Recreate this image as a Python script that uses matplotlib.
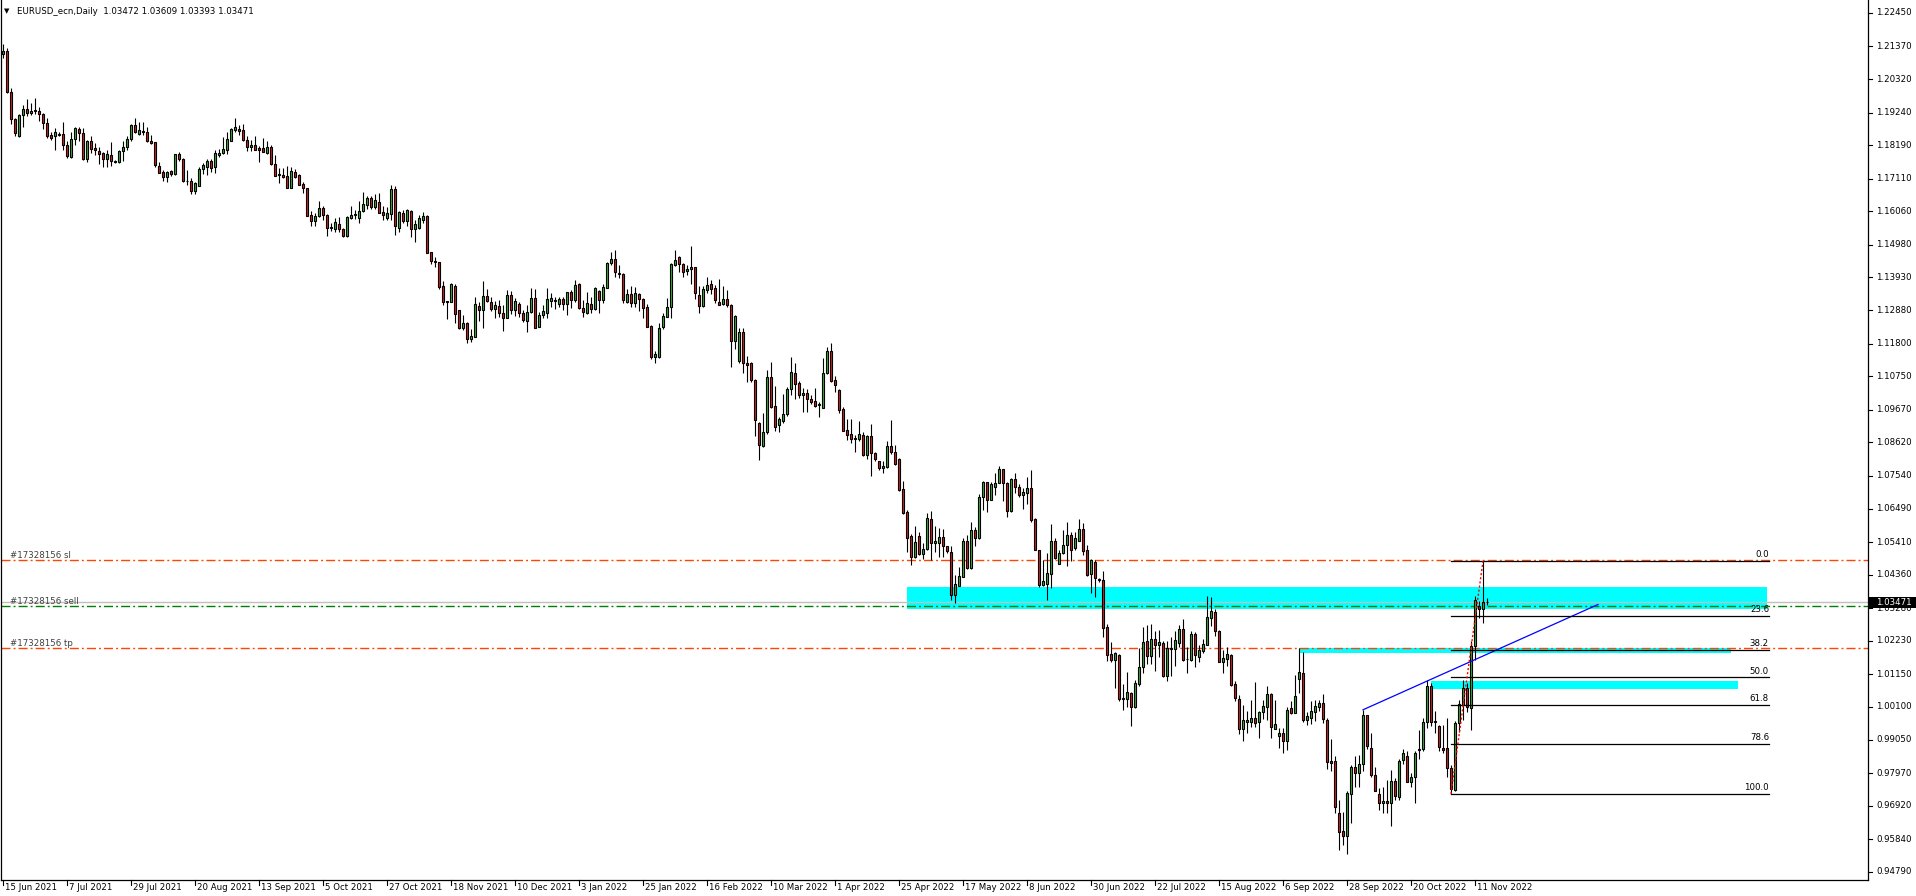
import matplotlib
matplotlib.use("Agg")
import matplotlib.pyplot as plt
import matplotlib.transforms as mtransforms
from matplotlib.patches import Rectangle

plt.rcParams['font.family'] = ['DejaVu Sans']
plt.rcParams['font.size'] = 6.2
plt.rcParams['lines.scale_dashes'] = False

# ---- daily EURUSD bars, one entry per trading day from 15 Jun 2021 ----
opens = [
    1.2113, 1.2122, 1.1989, 1.1902, 1.1850, 1.1915, 1.1935, 1.1922, 1.1929, 1.1928, 1.1919, 1.1892,
    1.1851, 1.1847, 1.1854, 1.1854, 1.1819, 1.1782, 1.1838, 1.1871, 1.1857, 1.1773, 1.1832, 1.1810,
    1.1800, 1.1794, 1.1773, 1.1787, 1.1768, 1.1764, 1.1799, 1.1812, 1.1838, 1.1883, 1.1856, 1.1865,
    1.1861, 1.1832, 1.1829, 1.1752, 1.1734, 1.1716, 1.1736, 1.1726, 1.1791, 1.1775, 1.1705, 1.1705,
    1.1671, 1.1687, 1.1742, 1.1750, 1.1768, 1.1748, 1.1789, 1.1793, 1.1803, 1.1834, 1.1869, 1.1871,
    1.1867, 1.1835, 1.1812, 1.1819, 1.1810, 1.1809, 1.1795, 1.1814, 1.1758, 1.1722, 1.1722, 1.1720,
    1.1682, 1.1734, 1.1722, 1.1694, 1.1682, 1.1594, 1.1574, 1.1590, 1.1617, 1.1594, 1.1554, 1.1549,
    1.1566, 1.1550, 1.1525, 1.1583, 1.1594, 1.1586, 1.1606, 1.1628, 1.1650, 1.1620, 1.1636, 1.1604,
    1.1586, 1.1598, 1.1678, 1.1551, 1.1601, 1.1576, 1.1607, 1.1548, 1.1553, 1.1579, 1.1591, 1.1475,
    1.1446, 1.1443, 1.1366, 1.1317, 1.1315, 1.1367, 1.1288, 1.1231, 1.1246, 1.1194, 1.1202, 1.1302,
    1.1287, 1.1332, 1.1313, 1.1293, 1.1301, 1.1278, 1.1264, 1.1336, 1.1289, 1.1307, 1.1280, 1.1254,
    1.1282, 1.1327, 1.1235, 1.1272, 1.1278, 1.1317, 1.1321, 1.1308, 1.1324, 1.1307, 1.1345, 1.1321,
    1.1372, 1.1294, 1.1280, 1.1308, 1.1293, 1.1350, 1.1319, 1.1360, 1.1439, 1.1452, 1.1408, 1.1404,
    1.1315, 1.1339, 1.1310, 1.1339, 1.1323, 1.1297, 1.1237, 1.1138, 1.1138, 1.1232, 1.1265, 1.1299,
    1.1432, 1.1460, 1.1435, 1.1413, 1.1419, 1.1426, 1.1336, 1.1302, 1.1354, 1.1371, 1.1358, 1.1314,
    1.1308, 1.1323, 1.1304, 1.1187, 1.1123, 1.1218, 1.1117, 1.1118, 1.1063, 1.0926, 1.0849, 1.0895,
    1.1073, 1.0979, 1.0917, 1.0932, 1.0953, 1.1033, 1.1086, 1.1052, 1.1013, 1.1021, 1.1002, 1.0995,
    1.0981, 1.0974, 1.1085, 1.1156, 1.1062, 1.1031, 1.0970, 1.0901, 1.0888, 1.0877, 1.0872, 1.0885,
    1.0822, 1.0883, 1.0827, 1.0802, 1.0779, 1.0783, 1.0851, 1.0831, 1.0807, 1.0711, 1.0638, 1.0561,
    1.0494, 1.0561, 1.0503, 1.0519, 1.0616, 1.0537, 1.0537, 1.0556, 1.0527, 1.0510, 1.0371, 1.0400,
    1.0430, 1.0544, 1.0458, 1.0579, 1.0555, 1.0687, 1.0733, 1.0678, 1.0719, 1.0730, 1.0775, 1.0730,
    1.0642, 1.0743, 1.0717, 1.0691, 1.0700, 1.0714, 1.0614, 1.0515, 1.0403, 1.0407, 1.0437, 1.0546,
    1.0472, 1.0505, 1.0530, 1.0563, 1.0521, 1.0545, 1.0583, 1.0515, 1.0437, 1.0478, 1.0422, 1.0419,
    1.0266, 1.0180, 1.0160, 1.0176, 1.0035, 1.0035, 1.0054, 1.0011, 1.0083, 1.0138, 1.0222, 1.0174,
    1.0228, 1.0208, 1.0215, 1.0110, 1.0199, 1.0196, 1.0215, 1.0260, 1.0163, 1.0161, 1.0244, 1.0172,
    1.0190, 1.0211, 1.0298, 1.0315, 1.0255, 1.0156, 1.0166, 1.0177, 1.0083, 1.0036, 0.9938, 0.9963,
    0.9963, 0.9974, 0.9963, 0.9993, 1.0011, 1.0052, 0.9940, 0.9918, 0.9925, 0.9902, 1.0006, 0.9992,
    1.0101, 1.0119, 0.9968, 0.9973, 0.9995, 1.0009, 1.0023, 0.9968, 0.9836, 0.9836, 0.9668, 0.9612,
    0.9593, 0.9729, 0.9816, 0.9797, 0.9826, 0.9985, 0.9877, 0.9792, 0.9730, 0.9700, 0.9708, 0.9700,
    0.9772, 0.9720, 0.9840, 0.9853, 0.9770, 0.9784, 0.9870, 0.9874, 0.9961, 1.0078, 0.9963, 0.9949,
    0.9877, 0.9877, 0.9815, 0.9743, 0.9958, 1.0017, 1.0071, 1.0006, 1.0205, 1.0336, 1.0325, 1.03472,
]
highs = [
    1.2145, 1.2131, 1.2002, 1.1905, 1.1919, 1.1949, 1.1967, 1.1954, 1.1972, 1.1941, 1.1924, 1.1906,
    1.1863, 1.1873, 1.1863, 1.1893, 1.1831, 1.1863, 1.1879, 1.1877, 1.1873, 1.1836, 1.1849, 1.1825,
    1.1812, 1.1798, 1.1804, 1.1829, 1.1772, 1.1804, 1.1831, 1.1847, 1.1886, 1.1906, 1.1895, 1.1895,
    1.1879, 1.1853, 1.1830, 1.1766, 1.1739, 1.1737, 1.1739, 1.1792, 1.1798, 1.1777, 1.1739, 1.1712,
    1.1702, 1.1750, 1.1763, 1.1774, 1.1774, 1.1804, 1.1806, 1.1844, 1.1862, 1.1874, 1.1907, 1.1885,
    1.1886, 1.1847, 1.1835, 1.1849, 1.1816, 1.1843, 1.1831, 1.1820, 1.1788, 1.1747, 1.1744, 1.1751,
    1.1749, 1.1743, 1.1725, 1.1699, 1.1682, 1.1608, 1.1600, 1.1638, 1.1622, 1.1597, 1.1568, 1.1585,
    1.1587, 1.1552, 1.1592, 1.1624, 1.1611, 1.1638, 1.1668, 1.1654, 1.1656, 1.1661, 1.1665, 1.1622,
    1.1621, 1.1691, 1.1689, 1.1608, 1.1610, 1.1613, 1.1611, 1.1578, 1.1594, 1.1605, 1.1594, 1.1475,
    1.1460, 1.1443, 1.1383, 1.1317, 1.1374, 1.1371, 1.1288, 1.1272, 1.1251, 1.1226, 1.1331, 1.1315,
    1.1382, 1.1355, 1.1331, 1.1317, 1.1321, 1.1304, 1.1353, 1.1351, 1.1326, 1.1315, 1.1288, 1.1304,
    1.1360, 1.1355, 1.1283, 1.1304, 1.1358, 1.1342, 1.1331, 1.1331, 1.1331, 1.1347, 1.1353, 1.1385,
    1.1374, 1.1321, 1.1347, 1.1331, 1.1361, 1.1353, 1.1372, 1.1444, 1.1476, 1.1482, 1.1433, 1.1407,
    1.1355, 1.1366, 1.1361, 1.1344, 1.1326, 1.1308, 1.1240, 1.1157, 1.1246, 1.1278, 1.1326, 1.1441,
    1.1482, 1.1462, 1.1441, 1.1433, 1.1494, 1.1428, 1.1366, 1.1364, 1.1396, 1.1385, 1.1369, 1.1387,
    1.1364, 1.1353, 1.1307, 1.1272, 1.1229, 1.1229, 1.1140, 1.1121, 1.1066, 1.0929, 1.0958, 1.1095,
    1.1120, 1.1044, 1.0943, 1.1018, 1.1039, 1.1138, 1.1119, 1.1061, 1.1036, 1.1035, 1.1015, 1.1037,
    1.0993, 1.1135, 1.1170, 1.1181, 1.1076, 1.1034, 1.0975, 1.0936, 1.0936, 1.0886, 1.0932, 1.0896,
    1.0886, 1.0920, 1.0830, 1.0803, 1.0802, 1.0865, 1.0934, 1.0852, 1.0811, 1.0738, 1.0644, 1.0567,
    1.0593, 1.0572, 1.0538, 1.0635, 1.0641, 1.0593, 1.0587, 1.0582, 1.0529, 1.0529, 1.0435, 1.0460,
    1.0553, 1.0564, 1.0605, 1.0590, 1.0696, 1.0738, 1.0736, 1.0735, 1.0762, 1.0786, 1.0775, 1.0734,
    1.0746, 1.0762, 1.0728, 1.0714, 1.0749, 1.0773, 1.0617, 1.0517, 1.0483, 1.0507, 1.0599, 1.0553,
    1.0517, 1.0580, 1.0606, 1.0574, 1.0574, 1.0614, 1.0601, 1.0531, 1.0485, 1.0483, 1.0424, 1.0448,
    1.0277, 1.0219, 1.0188, 1.0180, 1.0084, 1.0123, 1.0057, 1.0097, 1.0199, 1.0266, 1.0274, 1.0277,
    1.0256, 1.0258, 1.0224, 1.0221, 1.0234, 1.0255, 1.0274, 1.0292, 1.0204, 1.0255, 1.0251, 1.0210,
    1.0230, 1.0367, 1.0363, 1.0325, 1.0258, 1.0194, 1.0204, 1.0180, 1.0094, 1.0049, 1.0017, 0.9997,
    1.0033, 1.0091, 0.9997, 1.0032, 1.0078, 1.0056, 1.0033, 0.9943, 0.9943, 1.0011, 1.0030, 1.0113,
    1.0199, 1.0188, 0.9995, 1.0030, 1.0033, 1.0031, 1.0052, 0.9976, 0.9906, 0.9852, 0.9711, 0.9673,
    0.9738, 0.9822, 0.9853, 0.9854, 1.0001, 0.9985, 0.9926, 0.9818, 0.9749, 0.9751, 0.9775, 0.9808,
    0.9781, 0.9842, 0.9874, 0.9867, 0.9799, 0.9867, 0.9936, 0.9974, 1.0097, 1.0087, 0.9998, 0.9952,
    0.9952, 0.9974, 0.9824, 0.9965, 1.0033, 1.0097, 1.0087, 1.0221, 1.0366, 1.0350, 1.0480, 1.03609,
]
lows = [
    1.2099, 1.1986, 1.1887, 1.1847, 1.1844, 1.1877, 1.1913, 1.1915, 1.1920, 1.1898, 1.1872, 1.1841,
    1.1836, 1.1802, 1.1849, 1.1802, 1.1777, 1.1779, 1.1821, 1.1831, 1.1770, 1.1766, 1.1793, 1.1789,
    1.1760, 1.1750, 1.1748, 1.1752, 1.1761, 1.1761, 1.1769, 1.1804, 1.1833, 1.1857, 1.1851, 1.1852,
    1.1828, 1.1823, 1.1750, 1.1729, 1.1705, 1.1701, 1.1721, 1.1724, 1.1769, 1.1702, 1.1691, 1.1662,
    1.1662, 1.1686, 1.1727, 1.1722, 1.1734, 1.1731, 1.1780, 1.1791, 1.1790, 1.1831, 1.1862, 1.1851,
    1.1834, 1.1799, 1.1801, 1.1804, 1.1765, 1.1797, 1.1791, 1.1756, 1.1720, 1.1696, 1.1712, 1.1681,
    1.1680, 1.1712, 1.1690, 1.1665, 1.1590, 1.1559, 1.1559, 1.1587, 1.1579, 1.1525, 1.1544, 1.1541,
    1.1541, 1.1523, 1.1523, 1.1581, 1.1581, 1.1568, 1.1604, 1.1613, 1.1613, 1.1615, 1.1600, 1.1579,
    1.1578, 1.1578, 1.1530, 1.1539, 1.1569, 1.1559, 1.1524, 1.1508, 1.1548, 1.1567, 1.1471, 1.1437,
    1.1428, 1.1355, 1.1304, 1.1260, 1.1313, 1.1248, 1.1227, 1.1224, 1.1183, 1.1186, 1.1200, 1.1254,
    1.1231, 1.1313, 1.1284, 1.1264, 1.1265, 1.1222, 1.1262, 1.1274, 1.1269, 1.1267, 1.1251, 1.1219,
    1.1278, 1.1229, 1.1232, 1.1262, 1.1262, 1.1297, 1.1290, 1.1297, 1.1288, 1.1271, 1.1294, 1.1315,
    1.1291, 1.1267, 1.1275, 1.1280, 1.1289, 1.1280, 1.1310, 1.1358, 1.1433, 1.1396, 1.1390, 1.1312,
    1.1312, 1.1299, 1.1297, 1.1286, 1.1261, 1.1233, 1.1130, 1.1119, 1.1134, 1.1226, 1.1265, 1.1264,
    1.1430, 1.1412, 1.1396, 1.1401, 1.1371, 1.1324, 1.1278, 1.1297, 1.1342, 1.1340, 1.1312, 1.1304,
    1.1305, 1.1299, 1.1104, 1.1162, 1.1117, 1.1087, 1.1055, 1.1058, 1.0881, 1.0806, 1.0846, 1.0889,
    1.0974, 1.0900, 1.0897, 1.0924, 1.0948, 1.1015, 1.1001, 1.1004, 1.0959, 1.0961, 1.0986, 1.0975,
    1.0943, 1.0972, 1.1082, 1.1057, 1.1025, 1.0956, 1.0898, 1.0870, 1.0859, 1.0832, 1.0865, 1.0818,
    1.0808, 1.0755, 1.0803, 1.0773, 1.0763, 1.0779, 1.0825, 1.0789, 1.0707, 1.0632, 1.0510, 1.0468,
    1.0490, 1.0500, 1.0486, 1.0516, 1.0484, 1.0510, 1.0494, 1.0492, 1.0507, 1.0353, 1.0346, 1.0398,
    1.0427, 1.0455, 1.0455, 1.0529, 1.0552, 1.0644, 1.0639, 1.0676, 1.0694, 1.0730, 1.0674, 1.0623,
    1.0639, 1.0700, 1.0687, 1.0649, 1.0665, 1.0606, 1.0515, 1.0395, 1.0399, 1.0356, 1.0392, 1.0485,
    1.0470, 1.0502, 1.0464, 1.0481, 1.0517, 1.0543, 1.0499, 1.0432, 1.0378, 1.0363, 1.0413, 1.0234,
    1.0159, 1.0156, 1.0070, 1.0030, 1.0000, 1.0011, 0.9950, 1.0006, 1.0078, 1.0118, 1.0150, 1.0150,
    1.0126, 1.0172, 1.0108, 1.0095, 1.0110, 1.0142, 1.0204, 1.0158, 1.0121, 1.0158, 1.0140, 1.0155,
    1.0185, 1.0209, 1.0272, 1.0237, 1.0156, 1.0121, 1.0142, 1.0078, 1.0030, 0.9923, 0.9899, 0.9925,
    0.9947, 0.9947, 0.9911, 0.9970, 0.9968, 0.9909, 0.9938, 0.9877, 0.9863, 0.9872, 0.9987, 0.9990,
    1.0056, 0.9963, 0.9952, 0.9954, 0.9966, 0.9998, 0.9960, 0.9811, 0.9805, 0.9668, 0.9548, 0.9566,
    0.9536, 0.9636, 0.9752, 0.9752, 0.9804, 0.9874, 0.9786, 0.9738, 0.9679, 0.9670, 0.9668, 0.9627,
    0.9711, 0.9711, 0.9826, 0.9767, 0.9752, 0.9700, 0.9843, 0.9869, 0.9942, 0.9949, 0.9926, 0.9869,
    0.9861, 0.9786, 0.9730, 0.9738, 0.9930, 0.9969, 0.9995, 0.9936, 1.0162, 1.0298, 1.0280, 1.03393,
]
closes = [
    1.2122, 1.1989, 1.1902, 1.1857, 1.1915, 1.1935, 1.1922, 1.1929, 1.1931, 1.1919, 1.1892, 1.1850,
    1.1843, 1.1863, 1.1852, 1.1819, 1.1784, 1.1838, 1.1875, 1.1857, 1.1773, 1.1833, 1.1808, 1.1802,
    1.1790, 1.1773, 1.1791, 1.1767, 1.1766, 1.1799, 1.1813, 1.1839, 1.1883, 1.1863, 1.1868, 1.1860,
    1.1831, 1.1827, 1.1756, 1.1731, 1.1716, 1.1732, 1.1725, 1.1791, 1.1774, 1.1704, 1.1703, 1.1671,
    1.1697, 1.1743, 1.1755, 1.1768, 1.1747, 1.1793, 1.1794, 1.1806, 1.1838, 1.1871, 1.1877, 1.1866,
    1.1835, 1.1812, 1.1819, 1.1805, 1.1805, 1.1798, 1.1813, 1.1757, 1.1721, 1.1725, 1.1717, 1.1682,
    1.1736, 1.1715, 1.1691, 1.1681, 1.1592, 1.1574, 1.1592, 1.1617, 1.1594, 1.1552, 1.1551, 1.1571,
    1.1549, 1.1525, 1.1587, 1.1595, 1.1598, 1.1608, 1.1630, 1.1650, 1.1620, 1.1643, 1.1602, 1.1593,
    1.1600, 1.1678, 1.1560, 1.1604, 1.1576, 1.1610, 1.1550, 1.1566, 1.1583, 1.1591, 1.1473, 1.1445,
    1.1443, 1.1363, 1.1315, 1.1315, 1.1371, 1.1275, 1.1231, 1.1248, 1.1194, 1.1206, 1.1307, 1.1287,
    1.1332, 1.1317, 1.1293, 1.1304, 1.1280, 1.1264, 1.1337, 1.1289, 1.1317, 1.1279, 1.1255, 1.1282,
    1.1327, 1.1231, 1.1272, 1.1285, 1.1323, 1.1328, 1.1317, 1.1324, 1.1307, 1.1345, 1.1322, 1.1369,
    1.1294, 1.1283, 1.1310, 1.1293, 1.1358, 1.1319, 1.1361, 1.1439, 1.1452, 1.1412, 1.1403, 1.1321,
    1.1339, 1.1310, 1.1342, 1.1323, 1.1296, 1.1235, 1.1138, 1.1146, 1.1229, 1.1269, 1.1299, 1.1437,
    1.1449, 1.1438, 1.1412, 1.1420, 1.1427, 1.1344, 1.1302, 1.1355, 1.1368, 1.1355, 1.1319, 1.1306,
    1.1323, 1.1304, 1.1187, 1.1269, 1.1218, 1.1119, 1.1112, 1.1062, 1.0933, 1.0852, 1.0895, 1.1073,
    1.0977, 1.0911, 1.0936, 1.0954, 1.1033, 1.1089, 1.1049, 1.1013, 1.1021, 1.1001, 1.0993, 1.0980,
    1.0986, 1.1086, 1.1156, 1.1060, 1.1046, 1.0966, 1.0900, 1.0887, 1.0873, 1.0872, 1.0890, 1.0822,
    1.0883, 1.0827, 1.0809, 1.0778, 1.0786, 1.0851, 1.0830, 1.0794, 1.0709, 1.0635, 1.0553, 1.0494,
    1.0542, 1.0503, 1.0519, 1.0619, 1.0537, 1.0546, 1.0556, 1.0527, 1.0512, 1.0371, 1.0405, 1.0432,
    1.0544, 1.0458, 1.0579, 1.0555, 1.0686, 1.0733, 1.0678, 1.0728, 1.0730, 1.0775, 1.0730, 1.0642,
    1.0743, 1.0717, 1.0691, 1.0702, 1.0714, 1.0612, 1.0516, 1.0403, 1.0415, 1.0440, 1.0544, 1.0491,
    1.0505, 1.0531, 1.0563, 1.0516, 1.0553, 1.0583, 1.0513, 1.0435, 1.0483, 1.0424, 1.0418, 1.0265,
    1.0178, 1.0161, 1.0183, 1.0035, 1.0039, 1.0057, 1.0011, 1.0086, 1.0140, 1.0220, 1.0174, 1.0228,
    1.0210, 1.0219, 1.0110, 1.0199, 1.0196, 1.0225, 1.0260, 1.0161, 1.0165, 1.0244, 1.0178, 1.0192,
    1.0212, 1.0299, 1.0318, 1.0256, 1.0156, 1.0169, 1.0180, 1.0082, 1.0040, 0.9940, 0.9967, 0.9967,
    0.9974, 0.9960, 0.9994, 1.0012, 1.0052, 0.9944, 0.9955, 0.9926, 0.9902, 1.0001, 0.9992, 1.0046,
    1.0122, 0.9968, 0.9981, 0.9997, 1.0013, 1.0023, 0.9970, 0.9834, 0.9831, 0.9689, 0.9609, 0.9593,
    0.9733, 0.9816, 0.9799, 0.9826, 0.9985, 0.9883, 0.9792, 0.9741, 0.9700, 0.9708, 0.9700, 0.9772,
    0.9722, 0.9837, 0.9861, 0.9770, 0.9784, 0.9861, 0.9874, 0.9963, 1.0078, 0.9963, 0.9965, 0.9880,
    0.9871, 0.9815, 0.9745, 0.9958, 1.0019, 1.0071, 1.0009, 1.0205, 1.0355, 1.0325, 1.0347, 1.03471,
]

date_labels = ['15 Jun 2021', '7 Jul 2021', '29 Jul 2021', '20 Aug 2021', '13 Sep 2021', '5 Oct 2021',
               '27 Oct 2021', '18 Nov 2021', '10 Dec 2021', '3 Jan 2022', '25 Jan 2022', '16 Feb 2022',
               '10 Mar 2022', '1 Apr 2022', '25 Apr 2022', '17 May 2022', '8 Jun 2022', '30 Jun 2022',
               '22 Jul 2022', '15 Aug 2022', '6 Sep 2022', '28 Sep 2022', '20 Oct 2022', '11 Nov 2022']
date_bars = list(range(0, 369, 16))

price_ticks = [1.22450, 1.21370, 1.20320, 1.19240, 1.18190, 1.17110, 1.16060, 1.14980, 1.13930,
               1.12880, 1.11800, 1.10750, 1.09670, 1.08620, 1.07540, 1.06490, 1.05410, 1.04360,
               1.03280, 1.02230, 1.01150, 1.00100, 0.99050, 0.97970, 0.96920, 0.95840, 0.94790]

header = 'EURUSD_ecn,Daily  1.03472 1.03609 1.03393 1.03471'
bid = 1.03471

# order lines (label, price, colour)
order_names = ['#17328156 sl', '#17328156 sell', '#17328156 tp']
order_prices = [1.0483, 1.0335, 1.0199]
order_colors = ['#ff4500', '#008000', '#ff4500']

# cyan zones: (start bar, end bar, low, high)
zone_start = [226, 324, 357]
zone_end = [441, 432, 433.75]
zone_low = [1.0326, 1.0185, 1.0068]
zone_high = [1.0396, 1.0199, 1.0094]

# trendline
trend_bars = [340, 398.75]
trend_prices = [1.0001, 1.0340]

# fibonacci retracement
fib_bars = [362, 370]
fib_prices = [0.9730, 1.0480]
fib_levels = [0.0, 23.6, 38.2, 50.0, 61.8, 78.6, 100.0]
fib_end = 441.5

# ---- figure ----
W, H = 1916, 896
PLOT_R = 1868
PLOT_B = 880
fig = plt.figure(figsize=(W / 100, H / 100), dpi=100)
ax = fig.add_axes([1 / W, 1 - PLOT_B / H, (PLOT_R - 1) / W, PLOT_B / H])
ax.set_xlim(-0.5, 466.25)
ax.set_ylim(0.94529, 1.22865)
ax.set_xticks([])
ax.set_yticks([])
for s in ['left', 'bottom', 'right']:
    ax.spines[s].set_linewidth(0.9)
ax.spines['top'].set_visible(False)

fig_y = mtransforms.blended_transform_factory(fig.transFigure, ax.transData)
x_fig = mtransforms.blended_transform_factory(ax.transData, fig.transFigure)

# zones
for x0, x1, lo, hi in zip(zone_start, zone_end, zone_low, zone_high):
    ax.add_patch(Rectangle((x0, lo), x1 - x0, hi - lo, facecolor='#00ffff', edgecolor='none', zorder=1))

# order lines + bid line
dashdot = (0, (6.5, 2.2, 1.4, 2.2))
for name, p, c in zip(order_names, order_prices, order_colors):
    ax.axhline(p, color=c, lw=1.0, linestyle=dashdot, zorder=2)
    fig.text(10 / W, p, name, transform=fig_y, va='bottom', ha='left', color='#404040')
ax.axhline(bid, color='#c0c0c0', lw=1.0, zorder=2)

# trendline
ax.plot(trend_bars, trend_prices, color='#0000ff', lw=0.9, zorder=5)

# fibonacci
rng = fib_prices[1] - fib_prices[0]
for lev in fib_levels:
    p = fib_prices[1] - rng * lev / 100.0
    ax.plot([fib_bars[0], fib_end], [p, p], color='black', lw=0.9, zorder=5)
    ax.text(fib_end, p + 0.0006, '%.1f' % lev, ha='right', va='bottom', fontsize=6.2, zorder=6)
ax.plot(fib_bars, fib_prices, color='#ff0000', lw=1.0, linestyle=(0, (1.5, 1.5)), zorder=6)

# candles
xs = list(range(len(closes)))
ax.vlines(xs, lows, highs, color='black', lw=0.8, zorder=3)
body_bottom = [min(o, c) for o, c in zip(opens, closes)]
body_height = [abs(c - o) for o, c in zip(opens, closes)]
body_color = ['#34b233' if c >= o else '#d81e1e' for o, c in zip(opens, closes)]
ax.bar(xs, body_height, bottom=body_bottom, width=0.5, color=body_color,
       edgecolor='black', linewidth=0.8, zorder=4)

# right price scale
for p in price_ticks:
    fig.lines.append(plt.Line2D([PLOT_R / W, (PLOT_R + 4) / W], [p, p], transform=fig_y,
                                color='black', lw=0.8))
    fig.text(1876 / W, p, '%.5f' % p, transform=fig_y, va='center', ha='left')
fig.patches.append(Rectangle((1869 / W, bid - 0.0018), (W - 1869) / W, 0.0036, transform=fig_y,
                             facecolor='black', edgecolor='none', zorder=5))
fig.text(1876 / W, bid, '%.5f' % bid, transform=fig_y, va='center', ha='left', color='white', zorder=6)

# bottom date scale
for b, lab in zip(date_bars, date_labels):
    fig.lines.append(plt.Line2D([b, b], [1 - PLOT_B / H, 1 - (PLOT_B + 5) / H], transform=x_fig,
                                color='black', lw=0.8))
    fig.text(b + 0.4, 1 - 887 / H, lab, transform=x_fig, va='center', ha='left')

# header
fig.text(4 / W, 1 - 11 / H, '\u25bc', va='center', ha='left', fontsize=5)
fig.text(17 / W, 1 - 11 / H, header, va='center', ha='left')

fig.savefig('out.png', dpi=100, facecolor='white')
